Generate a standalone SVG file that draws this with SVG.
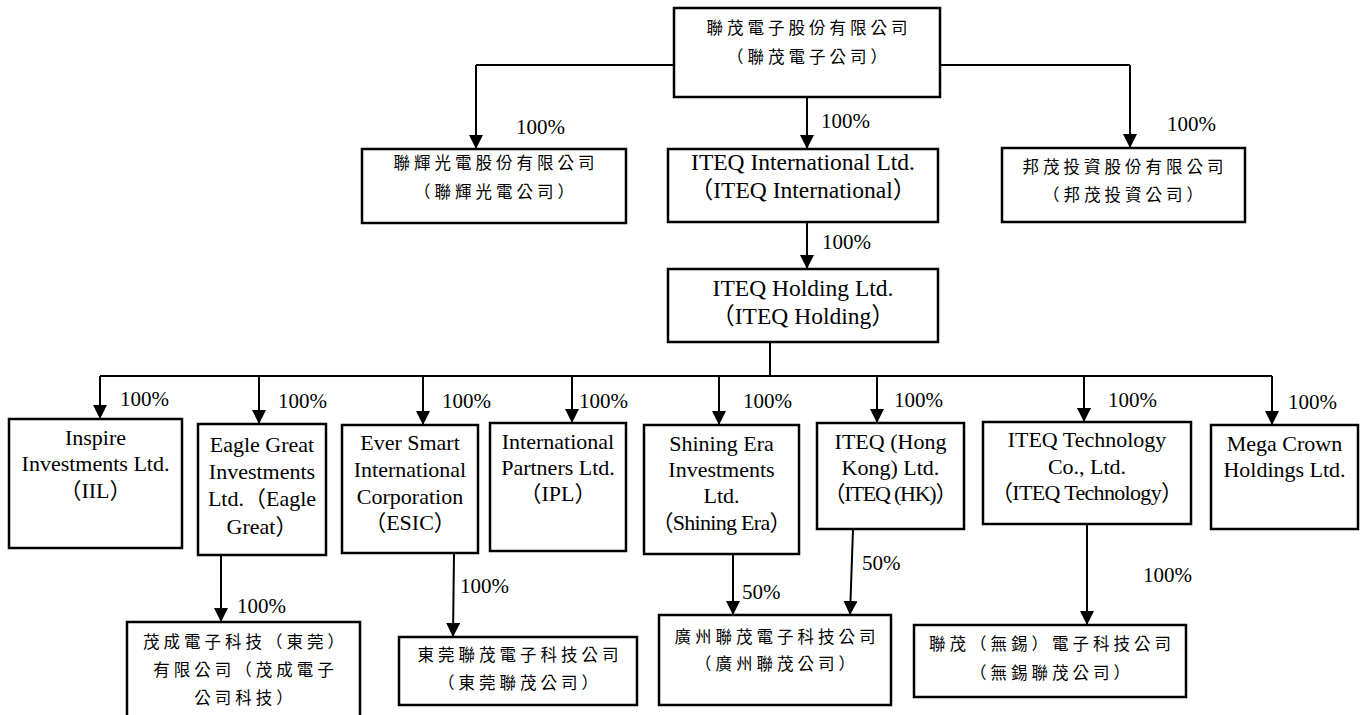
<svg xmlns="http://www.w3.org/2000/svg" width="1367" height="715" viewBox="0 0 1367 715">
<defs>
<marker id="ah" viewBox="0 0 14 14" markerWidth="14" markerHeight="14" refX="14" refY="7" orient="auto" markerUnits="userSpaceOnUse">
<path d="M0,0 L14,7 L0,14 z" fill="#000"/>
</marker>
<style>
.box{fill:#fff;stroke:#000;stroke-width:2.5}
.en{font-family:"Liberation Serif","Noto Sans CJK TC",serif;font-size:22px;text-anchor:middle;fill:#000}
.big{font-size:23.5px}
.zh{font-family:"Noto Sans CJK TC",sans-serif;font-size:16.5px;letter-spacing:4px;text-anchor:middle;fill:#000}
.pc{font-family:"Liberation Serif",serif;font-size:21px;fill:#000}
.ln{fill:none;stroke:#000;stroke-width:2}
.ar{fill:none;stroke:#000;stroke-width:2;marker-end:url(#ah)}
</style>
</defs>
<rect width="1367" height="715" fill="#fff"/>

<g id="connectors">
<path class="ln" d="M674,65 H476"/>
<path class="ar" d="M476,65 V149"/>
<path class="ln" d="M940,65 H1130"/>
<path class="ar" d="M1130,65 V148"/>
<path class="ar" d="M807,97 V149"/>
<path class="ar" d="M807,222 V269"/>
<path class="ln" d="M770,342 V376"/>
<path class="ln" d="M100,376 H1272"/>
<path class="ar" d="M100,376 V419"/>
<path class="ar" d="M259,376 V424"/>
<path class="ar" d="M423,376 V425"/>
<path class="ar" d="M572,376 V423"/>
<path class="ar" d="M719,376 V425"/>
<path class="ar" d="M877,376 V423"/>
<path class="ar" d="M1084,376 V422"/>
<path class="ar" d="M1272,376 V425"/>
<path class="ar" d="M221,555 V622"/>
<path class="ar" d="M454,553 L453,637"/>
<path class="ar" d="M733,554 V615"/>
<path class="ar" d="M853,529 L850,615"/>
<path class="ar" d="M1087,524 V625"/>
<text class="pc" x="516" y="134">100%</text>
<text class="pc" x="821" y="128">100%</text>
<text class="pc" x="1167" y="131">100%</text>
<text class="pc" x="822" y="249">100%</text>
<text class="pc" x="120" y="406">100%</text>
<text class="pc" x="278" y="408">100%</text>
<text class="pc" x="442" y="408">100%</text>
<text class="pc" x="579" y="408">100%</text>
<text class="pc" x="743" y="408">100%</text>
<text class="pc" x="894" y="407">100%</text>
<text class="pc" x="1108" y="407">100%</text>
<text class="pc" x="1288" y="409">100%</text>
<text class="pc" x="237" y="613">100%</text>
<text class="pc" x="460" y="593">100%</text>
<text class="pc" x="742" y="599">50%</text>
<text class="pc" x="862" y="570">50%</text>
<text class="pc" x="1143" y="582">100%</text>
</g>

<g id="n-iteq-corp">
<rect class="box" x="674" y="8" width="266" height="89"/>
<text class="zh" x="809" y="34">聯茂電子股份有限公司</text>
<text class="zh" x="809" y="63">（聯茂電子公司）</text>
</g>

<g id="n-lianhui">
<rect class="box" x="362" y="149" width="264" height="74"/>
<text class="zh" x="496" y="169">聯輝光電股份有限公司</text>
<text class="zh" x="496" y="198">（聯輝光電公司）</text>
</g>

<g id="n-iteq-intl">
<rect class="box" x="668" y="149" width="270" height="73"/>
<text class="en big" x="803" y="170">ITEQ International Ltd.</text>
<text class="en big" x="803" y="198">（ITEQ International）</text>
</g>

<g id="n-bangmao">
<rect class="box" x="1002" y="148" width="243" height="74"/>
<text class="zh" x="1125" y="173">邦茂投資股份有限公司</text>
<text class="zh" x="1125" y="201">（邦茂投資公司）</text>
</g>

<g id="n-iteq-holding">
<rect class="box" x="668" y="269" width="270" height="73"/>
<text class="en big" x="803" y="296">ITEQ Holding Ltd.</text>
<text class="en big" x="803" y="324">（ITEQ Holding）</text>
</g>

<g id="n-iil">
<rect class="box" x="9" y="419" width="173" height="129"/>
<text class="en" x="95.5" y="445">Inspire</text>
<text class="en" x="95.5" y="471">Investments Ltd.</text>
<text class="en" x="95.5" y="498">（IIL）</text>
</g>

<g id="n-eagle">
<rect class="box" x="198" y="424" width="128" height="131"/>
<text class="en" x="262" y="452">Eagle Great</text>
<text class="en" x="262" y="479">Investments</text>
<text class="en" x="262" y="506">Ltd.（Eagle</text>
<text class="en" x="262" y="534">Great）</text>
</g>

<g id="n-esic">
<rect class="box" x="342" y="425" width="136" height="128"/>
<text class="en" x="410" y="450">Ever Smart</text>
<text class="en" x="410" y="477">International</text>
<text class="en" x="410" y="504">Corporation</text>
<text class="en" x="410" y="530">（ESIC）</text>
</g>

<g id="n-ipl">
<rect class="box" x="490" y="423" width="136" height="128"/>
<text class="en" x="558" y="449">International</text>
<text class="en" x="558" y="475">Partners Ltd.</text>
<text class="en" x="558" y="501">（IPL）</text>
</g>

<g id="n-shining">
<rect class="box" x="644" y="425" width="155" height="129"/>
<text class="en" x="721.5" y="451">Shining Era</text>
<text class="en" x="721.5" y="477">Investments</text>
<text class="en" x="721.5" y="503">Ltd.</text>
<text class="en" x="721.5" y="530" textLength="140">（Shining Era）</text>
</g>

<g id="n-hk">
<rect class="box" x="817" y="423" width="147" height="106"/>
<text class="en" x="890.5" y="449">ITEQ (Hong</text>
<text class="en" x="890.5" y="475">Kong) Ltd.</text>
<text class="en" x="890.5" y="501" textLength="134">（ITEQ (HK)）</text>
</g>

<g id="n-tech">
<rect class="box" x="983" y="422" width="208" height="102"/>
<text class="en" x="1087" y="447">ITEQ Technology</text>
<text class="en" x="1087" y="474">Co., Ltd.</text>
<text class="en" x="1087" y="500" textLength="192">（ITEQ Technology）</text>
</g>

<g id="n-mega">
<rect class="box" x="1211" y="425" width="147" height="104"/>
<text class="en" x="1284.5" y="451">Mega Crown</text>
<text class="en" x="1284.5" y="477">Holdings Ltd.</text>
</g>

<g id="n-maocheng">
<rect class="box" x="127" y="622" width="233" height="100"/>
<text class="zh" x="245.5" y="648">茂成電子科技（東莞）</text>
<text class="zh" x="245.5" y="676">有限公司（茂成電子</text>
<text class="zh" x="245.5" y="704">公司科技）</text>
</g>

<g id="n-dongguan">
<rect class="box" x="399" y="637" width="238" height="68"/>
<text class="zh" x="520" y="661">東莞聯茂電子科技公司</text>
<text class="zh" x="520" y="689">（東莞聯茂公司）</text>
</g>

<g id="n-guangzhou">
<rect class="box" x="659" y="615" width="232" height="90"/>
<text class="zh" x="777" y="643">廣州聯茂電子科技公司</text>
<text class="zh" x="777" y="670">（廣州聯茂公司）</text>
</g>

<g id="n-wuxi">
<rect class="box" x="914" y="625" width="272" height="72"/>
<text class="zh" x="1052" y="650">聯茂（無錫）電子科技公司</text>
<text class="zh" x="1052" y="679">（無錫聯茂公司）</text>
</g>
</svg>
